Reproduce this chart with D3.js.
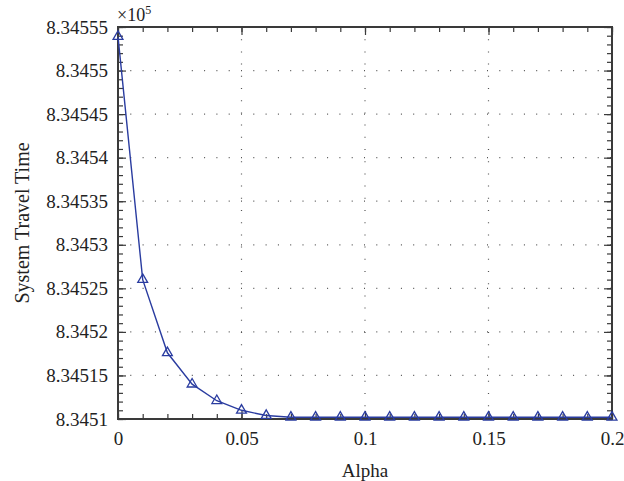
<!DOCTYPE html>
<html>
<head>
<meta charset="utf-8">
<script src="https://cdn.jsdelivr.net/npm/d3@7"></script>
<style>
body { margin: 0; background: #fff; }
text { font-family: "Liberation Serif", "DejaVu Serif", serif; }
</style>
</head>
<body>
<div id="chart"></div>
<script>
// values are in units of 10^5 (as shown on the axis)
var alpha = [0, 0.01, 0.02, 0.03, 0.04, 0.05, 0.06, 0.07, 0.08, 0.09, 0.1,
  0.11, 0.12, 0.13, 0.14, 0.15, 0.16, 0.17, 0.18, 0.19, 0.2];
var travelTime = [8.345539, 8.34526, 8.345176, 8.345140, 8.345121, 8.345110, 8.345104,
  8.345102, 8.345102, 8.345102, 8.345102, 8.345102, 8.345102, 8.345102, 8.345102,
  8.345102, 8.345102, 8.345102, 8.345102, 8.345102, 8.345102];
var xTicks = [0, 0.05, 0.1, 0.15, 0.2];
var yTicks = [8.3451, 8.34515, 8.3452, 8.34525, 8.3453, 8.34535, 8.3454, 8.34545, 8.3455, 8.34555];
var xMinor = d3.range(0, 0.2001, 0.01);
var yMinor = d3.range(0, 46).map(function(i) { return 8.3451 + i * 0.00001; });

var margin = {top: 27, right: 12, bottom: 62, left: 118},
width = 624 - margin.left - margin.right,
height = 481 - margin.top - margin.bottom;

var svg = d3.select("#chart")
.append("svg")
.attr("width", 624)
.attr("height", 481);

var g = svg.append("g")
.attr("transform", "translate(" + margin.left + "," + margin.top + ")");

var x = d3.scaleLinear().domain([0, 0.2]).range([0, width]);
var y = d3.scaleLinear().domain([8.3451, 8.34555]).range([height, 0]);

var axisColor = "#3a3a3a";
var font = "'Liberation Serif', serif";

// dotted grid
g.append("g").selectAll("line")
.data(xTicks.slice(1, -1))
.enter().append("line")
.attr("x1", d => x(d)).attr("x2", d => x(d))
.attr("y1", 0).attr("y2", height)
.attr("stroke", "#555").attr("stroke-width", 1.2)
.attr("stroke-dasharray", "1,11.2");

g.append("g").selectAll("line")
.data(yTicks.slice(1, -1))
.enter().append("line")
.attr("x1", 0).attr("x2", width)
.attr("y1", d => y(d)).attr("y2", d => y(d))
.attr("stroke", "#555").attr("stroke-width", 1.2)
.attr("stroke-dasharray", "1,11.3");

// ticks (inward, mirrored)
var fmtX = d => d === 0 ? "0" : String(d);
var fmtY = d => String(+d.toFixed(5));

var xb = g.append("g").attr("transform", "translate(0," + height + ")")
.call(d3.axisBottom(x).tickValues(xTicks).tickSize(-8).tickPadding(13).tickFormat(fmtX));
var xbm = g.append("g").attr("transform", "translate(0," + height + ")")
.call(d3.axisBottom(x).tickValues(xMinor).tickSize(-5).tickFormat(""));
var xt = g.append("g")
.call(d3.axisTop(x).tickValues(xTicks).tickSize(-8).tickFormat(""));
var xtm = g.append("g")
.call(d3.axisTop(x).tickValues(xMinor).tickSize(-5).tickFormat(""));
var yl = g.append("g")
.call(d3.axisLeft(y).tickValues(yTicks).tickSize(-8).tickPadding(10).tickFormat(fmtY));
var ylm = g.append("g")
.call(d3.axisLeft(y).tickValues(yMinor).tickSize(-5).tickFormat(""));
var yr = g.append("g").attr("transform", "translate(" + width + ",0)")
.call(d3.axisRight(y).tickValues(yTicks).tickSize(-8).tickFormat(""));
var yrm = g.append("g").attr("transform", "translate(" + width + ",0)")
.call(d3.axisRight(y).tickValues(yMinor).tickSize(-5).tickFormat(""));

[xb, xbm, xt, xtm, yl, ylm, yr, yrm].forEach(function(a) {
  a.select(".domain").remove();
  a.selectAll("line").attr("stroke", axisColor).attr("stroke-width", 1.2);
  a.selectAll("text").attr("font-size", "19px").attr("fill", "#222")
   .style("font-family", font);
});

// frame
g.append("rect")
.attr("x", 0).attr("y", 0).attr("width", width).attr("height", height)
.attr("fill", "none").attr("stroke", axisColor).attr("stroke-width", 2);

// line
var line = d3.line().x((d, i) => x(alpha[i])).y(d => y(d));
g.append("path")
.datum(travelTime)
.attr("d", line)
.attr("fill", "none")
.attr("stroke", "#2a3ca0")
.attr("stroke-width", 1.4);

// markers
g.append("g").selectAll("path")
.data(travelTime)
.enter().append("path")
.attr("transform", (d, i) => "translate(" + x(alpha[i]) + "," + y(d) + ")")
.attr("d", d3.symbol().type(d3.symbolTriangle).size(42))
.attr("fill", "none")
.attr("stroke", "#2a3ca0")
.attr("stroke-width", 1.3);

// exponent
var ex = svg.append("text")
.attr("x", margin.left - 1).attr("y", margin.top - 6)
.attr("font-size", "18px").attr("fill", "#222");
ex.append("tspan").text("\u00d710");
ex.append("tspan").attr("dy", -7).attr("font-size", "12px").text("5");

// axis titles
svg.append("text")
.attr("x", margin.left + width / 2).attr("y", 477)
.attr("text-anchor", "middle").attr("font-size", "19px").attr("fill", "#222")
.text("Alpha");

svg.append("text")
.attr("transform", "translate(29," + (margin.top + height / 2) + ")rotate(-90)")
.attr("text-anchor", "middle").attr("font-size", "20px").attr("fill", "#222")
.text("System Travel Time");
</script>
</body>
</html>
